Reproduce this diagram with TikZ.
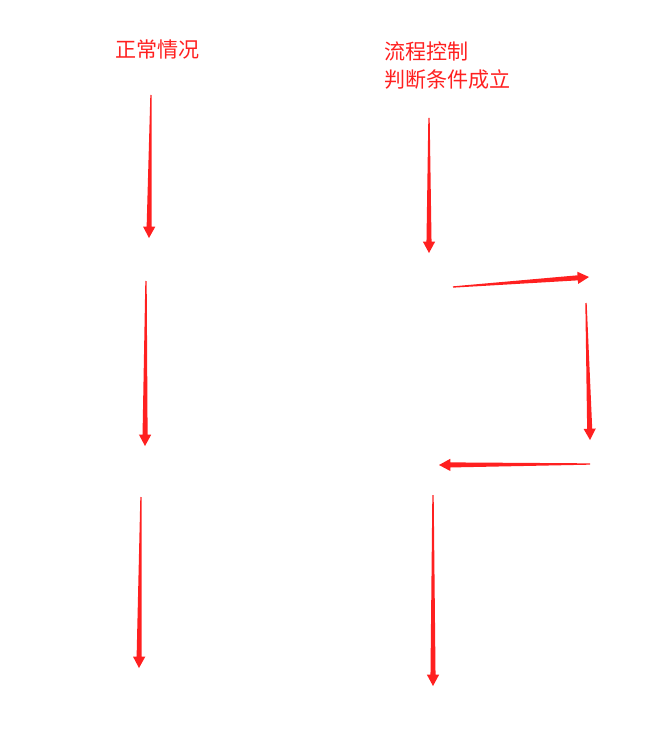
\documentclass[tikz,border=0pt]{standalone}
\usepackage{fontspec}
\newfontfamily\cjk{Noto Sans CJK SC}
\usetikzlibrary{calc}
\definecolor{arrowred}{RGB}{255,32,32}
\tikzset{
  label text/.style={text=arrowred, font=\cjk\fontsize{15.8}{21}\selectfont, inner sep=0pt},
}
% tapered red arrow from #1 (tail) to #2 (tip)
\newcommand{\redarrow}[2]{%
  \coordinate (hb) at ($(#2)!8.5pt!(#1)$);
  \fill[arrowred] ($(#1)!0.5pt!90:(#2)$) -- ($(hb)!1.9pt!90:(#2)$) -- ($(hb)!4.6pt!90:(#2)$) -- (#2)
    -- ($(hb)!4.6pt!-90:(#2)$) -- ($(hb)!1.9pt!-90:(#2)$) -- ($(#1)!0.5pt!-90:(#2)$) -- cycle;
}
\begin{document}
\begin{tikzpicture}[x=0.75pt,y=-0.75pt]
  \useasboundingbox (0,0) rectangle (658,734);
  \node[label text] (normal) at (157.5,49) {正常情况};
  \node[label text, anchor=north west, align=left] (flow) at (384,42) {流程控制\\判断条件成立};
  % left column
  \coordinate (a1) at (151,95);  \coordinate (b1) at (149,238);
  \coordinate (a2) at (146,281); \coordinate (b2) at (145,446);
  \coordinate (a3) at (141,497); \coordinate (b3) at (139,668);
  % right column
  \coordinate (c1) at (429,118); \coordinate (d1) at (429,253);
  \coordinate (c2) at (453,287); \coordinate (d2) at (589,277);
  \coordinate (c3) at (586,303); \coordinate (d3) at (590,440);
  \coordinate (c4) at (590,464); \coordinate (d4) at (439,465);
  \coordinate (c5) at (433,495); \coordinate (d5) at (433,686);
  \redarrow{a1}{b1}
  \redarrow{a2}{b2}
  \redarrow{a3}{b3}
  \redarrow{c1}{d1}
  \redarrow{c2}{d2}
  \redarrow{c3}{d3}
  \redarrow{c4}{d4}
  \redarrow{c5}{d5}
\end{tikzpicture}
\end{document}
